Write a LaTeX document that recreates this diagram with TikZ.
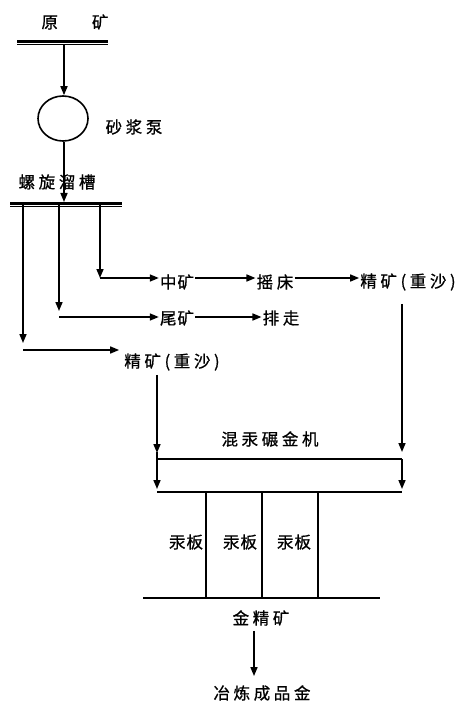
\documentclass[tikz,border=0pt]{standalone}
\usepackage{fontspec}
\newfontfamily\cjkw[LetterSpace=22,FakeBold=0.8]{Noto Sans CJK SC}
\newfontfamily\cjkn[LetterSpace=6,FakeBold=0.8]{Noto Sans CJK SC}
\usetikzlibrary{arrows.meta,shapes.geometric,calc}
\begin{document}
\begin{tikzpicture}[x=1pt,y=-1pt,
  lbl/.style={font=\cjkw\fontsize{16.5}{19}\selectfont, inner sep=1pt},
  lbln/.style={font=\cjkn\fontsize{16.5}{19}\selectfont, inner sep=1pt},
  arr/.style={-{Triangle[length=9pt,width=7pt]}, line width=1.6pt},
  ln/.style={line width=1.5pt},
  thickbar/.style={line width=3pt},
  thinbar/.style={line width=1pt}]
\fill[white] (0,0) rectangle (463,708);
\useasboundingbox (0,0) rectangle (463,708);

% raw ore and first bar
\node[lbl] (yk) at (75,22) {原\hspace{34pt}矿};
\coordinate (b1L) at (17,41.5);
\coordinate (b1R) at (108,41.5);
\coordinate (b1o) at (64,45);
\draw[thickbar] (b1L) -- (b1R);
\draw[thinbar] ($(b1L)+(0,3.5)$) -- ($(b1R)+(0,3.5)$);

% pump
\node[draw, ellipse, line width=1.6pt, minimum width=50pt, minimum height=45pt, inner sep=0pt] (pump) at (63,118.5) {};
\draw[arr] (b1o) -- (b1o |- pump.north);
\node[lbl] (pl) at (134,127) {砂浆泵};

% spiral chute
\node[lbl] (lxc) at (57,182) {螺旋溜槽};
\coordinate (b2L) at (10,203.5);
\coordinate (b2R) at (122,203.5);
\coordinate (b2o) at (64,202);
\draw[thickbar] (b2L) -- (b2R);
\draw[thinbar] ($(b2L)+(0,3.5)$) -- ($(b2R)+(0,3.5)$);
\draw[arr] (pump.south -| b2o) -- (b2o);

% branches
\coordinate (s1) at (100,205);
\coordinate (s2) at (59,205);
\coordinate (s3) at (23,205);
\coordinate (t1) at (100,278);
\coordinate (t2) at (59,311);
\coordinate (t3) at (23,343);
\coordinate (c1) at (100,278);
\coordinate (c2) at (59,317);
\coordinate (c3) at (23,350);
\draw[arr] (s1) -- (t1);
\draw[arr] (s2) -- (t2);
\draw[arr] (s3) -- (t3);

\node[lbln] (zk) at (177,282) {中矿};
\node[lbl] (yc) at (275,282) {摇床};
\node[lbl] (jk1) at (408,282) {精矿(重沙)};
\node[lbln] (wk) at (177,318) {尾矿};
\node[lbl] (pz) at (281,318) {排走};
\node[lbl] (jk2) at (172,362) {精矿(重沙)};

\draw[arr] (c1) -- (c1 -| zk.west);
\draw[arr] (zk.east |- c1) -- (yc.west |- c1);
\draw[arr] (yc.east |- c1) -- (jk1.west |- c1);
\draw[arr] (c2) -- (c2 -| wk.west);
\draw[arr] (wk.east |- c2) -- (pz.west |- c2);
\draw[arr] (c3) -- ($(c3 -| jk2.west)+(-4,0)$);

% amalgamation mill
\coordinate (bTL) at (157,459);
\coordinate (bTR) at (402,459);
\coordinate (bBL) at (157,492);
\coordinate (bBR) at (402,492);
\node[lbl] (hg) at (270,439) {混汞碾金机};
\draw[arr, shorten <=12pt] (jk1.south -| bTR) -- ($(bTR)+(0,-7)$);
\draw[arr, shorten <=3pt] (jk2.south -| bTL) -- ($(bTL)+(0,-6)$);
\draw[ln] ($(bTL)+(0,-7)$) -- (bTL);
\draw[arr] (bTL) -- ($(bBL)+(0,-3)$);
\draw[ln] (bTL) -- (bTR);
\draw[arr] (bTR) -- ($(bBR)+(0,-3)$);
\draw[ln] (bBL) -- (bBR);

% mercury plates
\coordinate (p1) at (206,492);
\coordinate (p2) at (262,492);
\coordinate (p3) at (318,492);
\coordinate (baseL) at (143,598);
\coordinate (baseR) at (380,598);
\draw[ln] (p1) -- (p1 |- baseL);
\draw[ln] (p2) -- (p2 |- baseL);
\draw[ln] (p3) -- (p3 |- baseL);
\draw[ln] (baseL) -- (baseR);
\node[lbln] (gb1) at (186,542) {汞板};
\node[lbln] (gb2) at (240,542) {汞板};
\node[lbln] (gb3) at (294,542) {汞板};

% gold concentrate and product
\node[lbl] (jjk) at (261,618) {金精矿};
\node[lbl] (yl) at (262,693) {冶炼成品金};
\coordinate (ax) at (254,0);
\draw[arr, shorten <=4pt, shorten >=8pt] (jjk.south -| ax) -- (yl.north -| ax);
\end{tikzpicture}
\end{document}
